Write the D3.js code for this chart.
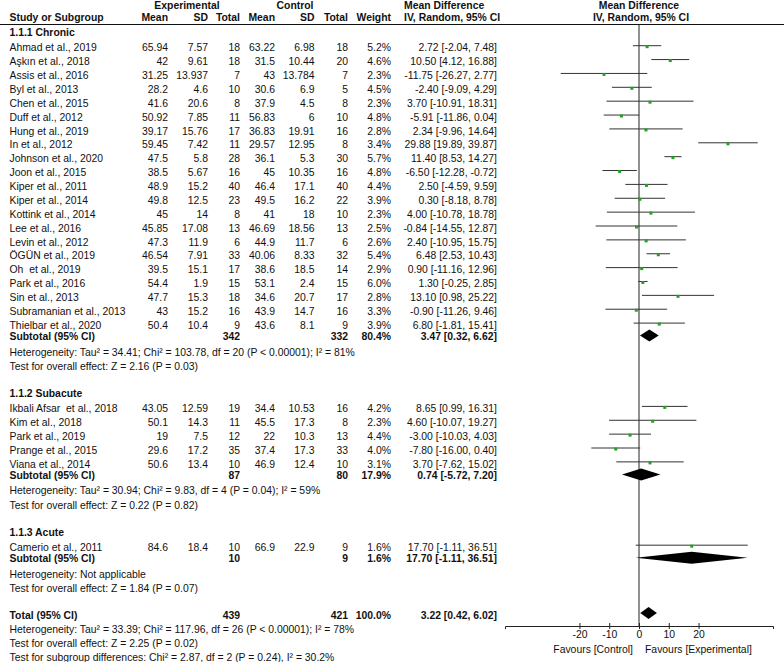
<!DOCTYPE html>
<html>
<head>
<meta charset="utf-8">
<script src="https://cdn.jsdelivr.net/npm/d3@7"></script>
<style>
  body { margin: 0; background: #fff; }
  text { font-family: "Liberation Sans", Arial, sans-serif; font-size: 10.4px; fill: #111; white-space: pre; }
  .b { font-weight: bold; }
</style>
</head>
<body>
<div id="chart"></div>
<script>
// study level data
const studyNames = ["Ahmad et al., 2019", "Aşkın et al., 2018", "Assis et al., 2016", "Byl et al., 2013",
  "Chen et al., 2015", "Duff et al., 2012", "Hung et al., 2019", "In et al., 2012", "Johnson et al., 2020",
  "Joon et al., 2015", "Kiper et al., 2011", "Kiper et al., 2014", "Kottink et al., 2014", "Lee et al., 2016",
  "Levin et al., 2012", "ÖGÜN et al., 2019", "Oh  et al., 2019", "Park et al., 2016", "Sin et al., 2013",
  "Subramanian et al., 2013", "Thielbar et al., 2020",
  "Ikbali Afsar  et al., 2018", "Kim et al., 2018", "Park et al., 2019", "Prange et al., 2015", "Viana et al., 2014",
  "Camerio et al., 2011"];
const studyGroup = [0,0,0,0,0,0,0,0,0,0,0,0,0,0,0,0,0,0,0,0,0, 1,1,1,1,1, 2];
const expMean = [65.94, 42, 31.25, 28.2, 41.6, 50.92, 39.17, 59.45, 47.5, 38.5, 48.9, 49.8, 45, 45.85, 47.3, 46.54, 39.5, 54.4, 47.7, 43, 50.4,
  43.05, 50.1, 19, 29.6, 50.6, 84.6];
const expSD = [7.57, 9.61, 13.937, 4.6, 20.6, 7.85, 15.76, 7.42, 5.8, 5.67, 15.2, 12.5, 14, 17.08, 11.9, 7.91, 15.1, 1.9, 15.3, 15.2, 10.4,
  12.59, 14.3, 7.5, 17.2, 13.4, 18.4];
const expN = [18, 18, 7, 10, 8, 11, 17, 11, 28, 16, 40, 23, 8, 13, 6, 33, 17, 15, 18, 16, 9,
  19, 11, 12, 35, 10, 10];
const ctlMean = [63.22, 31.5, 43, 30.6, 37.9, 56.83, 36.83, 29.57, 36.1, 45, 46.4, 49.5, 41, 46.69, 44.9, 40.06, 38.6, 53.1, 34.6, 43.9, 43.6,
  34.4, 45.5, 22, 37.4, 46.9, 66.9];
const ctlSD = [6.98, 10.44, 13.784, 6.9, 4.5, 6, 19.91, 12.95, 5.3, 10.35, 17.1, 16.2, 18, 18.56, 11.7, 8.33, 18.5, 2.4, 20.7, 14.7, 8.1,
  10.53, 17.3, 10.3, 17.3, 12.4, 22.9];
const ctlN = [18, 20, 7, 5, 8, 10, 16, 8, 30, 16, 40, 22, 10, 13, 6, 32, 14, 15, 17, 16, 9,
  16, 8, 13, 33, 10, 9];
const weights = [5.2, 4.6, 2.3, 4.5, 2.3, 4.8, 2.8, 3.4, 5.7, 4.8, 4.4, 3.9, 2.3, 2.5, 2.6, 5.4, 2.9, 6.0, 2.8, 3.3, 3.9,
  4.2, 2.3, 4.4, 4.0, 3.1, 1.6];
const md = [2.72, 10.50, -11.75, -2.40, 3.70, -5.91, 2.34, 29.88, 11.40, -6.50, 2.50, 0.30, 4.00, -0.84, 2.40, 6.48, 0.90, 1.30, 13.10, -0.90, 6.80,
  8.65, 4.60, -3.00, -7.80, 3.70, 17.70];
const ciLow = [-2.04, 4.12, -26.27, -9.09, -10.91, -11.86, -9.96, 19.89, 8.53, -12.28, -4.59, -8.18, -10.78, -14.55, -10.95, 2.53, -11.16, -0.25, 0.98, -11.26, -1.81,
  0.99, -10.07, -10.03, -16.00, -7.62, -1.11];
const ciHigh = [7.48, 16.88, 2.77, 4.29, 18.31, 0.04, 14.64, 39.87, 14.27, -0.72, 9.59, 8.78, 18.78, 12.87, 15.75, 10.43, 12.96, 2.85, 25.22, 9.46, 15.41,
  16.31, 19.27, 4.03, 0.40, 15.02, 36.51];

// subgroups
const subNames = ["1.1.1 Chronic", "1.1.2 Subacute", "1.1.3 Acute"];
const subExpN = [342, 87, 10];
const subCtlN = [332, 80, 9];
const subWeight = [80.4, 17.9, 1.6];
const subMD = [3.47, 0.74, 17.70];
const subLow = [0.32, -5.72, -1.11];
const subHigh = [6.62, 7.20, 36.51];
const subHet = ["Heterogeneity: Tau² = 34.41; Chi² = 103.78, df = 20 (P < 0.00001); I² = 81%",
  "Heterogeneity: Tau² = 30.94; Chi² = 9.83, df = 4 (P = 0.04); I² = 59%",
  "Heterogeneity: Not applicable"];
const subTest = ["Test for overall effect: Z = 2.16 (P = 0.03)",
  "Test for overall effect: Z = 0.22 (P = 0.82)",
  "Test for overall effect: Z = 1.84 (P = 0.07)"];

// overall
const totalExpN = 439, totalCtlN = 421, totalWeight = 100.0;
const totalMD = 3.22, totalLow = 0.42, totalHigh = 6.02;
const totalNotes = ["Heterogeneity: Tau² = 33.39; Chi² = 117.96, df = 26 (P < 0.00001); I² = 78%",
  "Test for overall effect: Z = 2.25 (P = 0.02)",
  "Test for subgroup differences: Chi² = 2.87, df = 2 (P = 0.24), I² = 30.2%"];

const axisTicks = [-20, -10, 0, 10, 20];

const W = 784, H = 662;
const svg = d3.select("#chart").append("svg")
    .attr("width", W)
    .attr("height", H);

// column right edges
const col = {name: 9.5, eMean: 168, eSD: 208, eN: 240, cMean: 275, cSD: 314.5, cN: 348, wt: 391, ci: 497};

const x = d3.scaleLinear().domain([-45, 45]).range([505, 773]);

// build row layout
var rows = [];
var y = 0;
function addRow(r, gap) { y += gap; r.y = y; rows.push(r); }

subNames.forEach(function(name, g) {
    addRow({type: "heading", g: g}, g === 0 ? 32.7 : 27.2);
    var first = true;
    studyGroup.forEach(function(sg, i) {
        if (sg !== g) return;
        addRow({type: "study", i: i}, first ? 15 : 13.87);
        first = false;
    });
    addRow({type: "subtotal", g: g}, 11.5);
    addRow({type: "het", g: g}, 15.3);
    addRow({type: "test", g: g}, 14.3);
});
addRow({type: "total"}, 26.7);
totalNotes.forEach(function(t, k) { addRow({type: "note", k: k}, 14.2); });

function txt(xp, yp, s, anchor, bold) {
    svg.append("text")
        .attr("x", xp)
        .attr("y", yp)
        .attr("dy", "0.35em")
        .attr("text-anchor", anchor || "start")
        .attr("class", bold ? "b" : null)
        .text(s);
}
function ciLabel(m, lo, hi) {
    return m.toFixed(2) + " [" + lo.toFixed(2) + ", " + hi.toFixed(2) + "]";
}
function diamond(m, lo, hi, yc) {
    const h = 6;
    svg.append("path")
        .attr("d", "M" + x(lo) + "," + yc + "L" + x(m) + "," + (yc - h) + "L" + x(hi) + "," + yc + "L" + x(m) + "," + (yc + h) + "Z")
        .attr("fill", "#000");
}

// headers
txt(187, 5, "Experimental", "middle", true);
txt(295, 5, "Control", "middle", true);
txt(404, 5, "Mean Difference", "start", true);
txt(639, 5, "Mean Difference", "middle", true);
const hy = 17.5;
txt(col.name, hy, "Study or Subgroup", "start", true);
txt(col.eMean, hy, "Mean", "end", true);
txt(col.eSD, hy, "SD", "end", true);
txt(col.eN, hy, "Total", "end", true);
txt(col.cMean, hy, "Mean", "end", true);
txt(col.cSD, hy, "SD", "end", true);
txt(col.cN, hy, "Total", "end", true);
txt(col.wt, hy, "Weight", "end", true);
txt(404, hy, "IV, Random, 95% CI", "start", true);
txt(641, hy, "IV, Random, 95% CI", "middle", true);

svg.append("line")
    .attr("x1", 0).attr("x2", W)
    .attr("y1", 24.5).attr("y2", 24.5)
    .attr("stroke", "#111");

// zero line
svg.append("line")
    .attr("x1", x(0)).attr("x2", x(0))
    .attr("y1", 24.5).attr("y2", 626)
    .attr("stroke", "#222");

rows.forEach(function(r) {
    if (r.type === "heading") {
        txt(col.name, r.y, subNames[r.g], "start", true);
    } else if (r.type === "study") {
        const i = r.i;
        txt(col.name, r.y, studyNames[i]);
        txt(col.eMean, r.y, String(expMean[i]), "end");
        txt(col.eSD, r.y, String(expSD[i]), "end");
        txt(col.eN, r.y, String(expN[i]), "end");
        txt(col.cMean, r.y, String(ctlMean[i]), "end");
        txt(col.cSD, r.y, String(ctlSD[i]), "end");
        txt(col.cN, r.y, String(ctlN[i]), "end");
        txt(col.wt, r.y, weights[i].toFixed(1) + "%", "end");
        txt(col.ci, r.y, ciLabel(md[i], ciLow[i], ciHigh[i]), "end");
        svg.append("line")
            .attr("x1", x(ciLow[i])).attr("x2", x(ciHigh[i]))
            .attr("y1", r.y - 2).attr("y2", r.y - 2)
            .attr("stroke", "#333");
        svg.append("rect")
            .attr("x", x(md[i]) - 1.5).attr("y", r.y - 2.5)
            .attr("width", 3).attr("height", 3)
            .attr("fill", "#1fa31f");
    } else if (r.type === "subtotal") {
        const g = r.g;
        txt(col.name, r.y, "Subtotal (95% CI)", "start", true);
        txt(col.eN, r.y, String(subExpN[g]), "end", true);
        txt(col.cN, r.y, String(subCtlN[g]), "end", true);
        txt(col.wt, r.y, subWeight[g].toFixed(1) + "%", "end", true);
        txt(col.ci, r.y, ciLabel(subMD[g], subLow[g], subHigh[g]), "end", true);
        diamond(subMD[g], subLow[g], subHigh[g], r.y - 1);
    } else if (r.type === "het") {
        txt(col.name, r.y, subHet[r.g]);
    } else if (r.type === "test") {
        txt(col.name, r.y, subTest[r.g]);
    } else if (r.type === "total") {
        txt(col.name, r.y, "Total (95% CI)", "start", true);
        txt(col.eN, r.y, String(totalExpN), "end", true);
        txt(col.cN, r.y, String(totalCtlN), "end", true);
        txt(col.wt, r.y, totalWeight.toFixed(1) + "%", "end", true);
        txt(col.ci, r.y, ciLabel(totalMD, totalLow, totalHigh), "end", true);
        diamond(totalMD, totalLow, totalHigh, r.y - 2);
    } else if (r.type === "note") {
        txt(col.name, r.y, totalNotes[r.k]);
    }
});

// axis
const axisY = 626;
const axis = svg.append("g")
    .attr("transform", "translate(0," + axisY + ")")
    .call(d3.axisBottom(x).tickValues(axisTicks).tickFormat(function(d) { return String(d); })
        .tickSizeOuter(0).tickSize(3).tickPadding(2));
axis.selectAll(".tick line").attr("y1", -3).attr("stroke", "#222");
axis.select(".domain").attr("stroke", "#222");

txt(x(0) - 6, 649.5, "Favours [Control]", "end");
txt(x(0) + 6, 649.5, "Favours [Experimental]", "start");
</script>
</body>
</html>
